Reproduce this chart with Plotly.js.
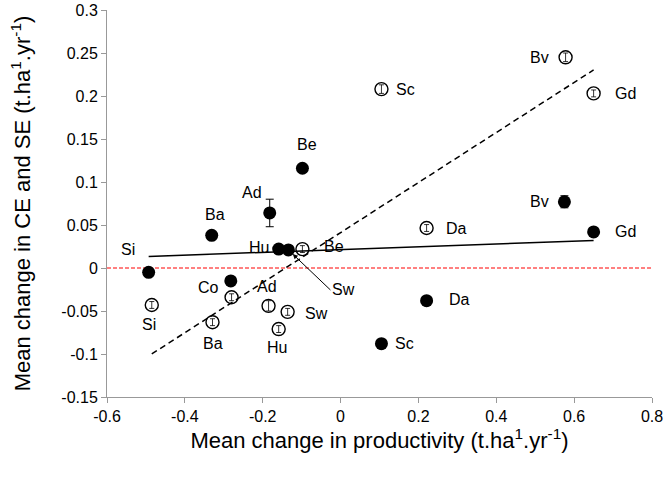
<!DOCTYPE html>
<html><head><meta charset="utf-8">
<script src="https://cdn.plot.ly/plotly-3.0.1.min.js"></script>
<style>html,body{margin:0;padding:0;background:#fff}#chart{width:666px;height:481px}</style>
</head><body><div id="chart"></div>
<script>
// Solid circles (CE)
const solidNames = ['Si','Ba','Ad','Be','Hu','Sw','Co','Da','Sc','Bv','Gd'];
const solidX = [-0.493,-0.331,-0.182,-0.098,-0.159,-0.134,-0.282,0.221,0.105,0.575,0.650];
const solidY = [-0.005,0.038,0.064,0.116,0.022,0.021,-0.015,-0.038,-0.088,0.077,0.042];
const solidErr = [0,0,0.016,0,0,0,0,0,0,0.007,0];
// Open circles (SE)
const openNames = ['Be','Co','Si','Ba','Ad','Sw','Hu','Da','Sc','Bv','Gd'];
const openX = [-0.098,-0.280,-0.485,-0.329,-0.185,-0.136,-0.159,0.221,0.105,0.578,0.650];
const openY = [0.022,-0.034,-0.043,-0.063,-0.044,-0.051,-0.071,0.0465,0.208,0.245,0.203];
const openErr = [0.004,0.004,0.004,0.004,0.006,0.004,0.004,0.004,0.005,0.005,0.004];
// Axis ticks
const xTicks = [-0.6,-0.4,-0.2,0,0.2,0.4,0.6,0.8];
const xTickText = ['-0.6','-0.4','-0.2','0','0.2','0.4','0.6','0.8'];
const yTicks = [-0.15,-0.1,-0.05,0,0.05,0.1,0.15,0.2,0.25,0.3];
const yTickText = ['-0.15','-0.1','-0.05','0','0.05','0.1','0.15','0.2','0.25','0.3'];
// label offsets in pixels [dx, dy(up)]
const solidLabelOff = {Si:[-21,23],Ba:[3,21],Ad:[-18,20],Be:[5,24],Hu:[-20,2],Co:[-22,-7],Da:[33,1],Sc:[23,0],Bv:[-25,0],Gd:[32,0]};
const openLabelOff = {Be:[32,3],Si:[-3,-20],Ba:[0,-21],Ad:[-2,19],Sw:[29,-2],Hu:[-2,-18],Da:[30,0],Sc:[24,0],Bv:[-26,0],Gd:[32,0]};

function fit(xs, ys){
  const n = xs.length;
  const mx = xs.reduce((a,b)=>a+b,0)/n, my = ys.reduce((a,b)=>a+b,0)/n;
  let sxy=0, sxx=0;
  for(let i=0;i<n;i++){sxy+=(xs[i]-mx)*(ys[i]-my); sxx+=(xs[i]-mx)**2;}
  const b = sxy/sxx, a = my - b*mx;
  const x0 = Math.min(...xs), x1 = Math.max(...xs);
  return {x:[x0,x1], y:[a+b*x0, a+b*x1]};
}
const fS = fit(solidX, solidY), fO = fit(openX, openY);

const font = 'Liberation Sans, Arial, sans-serif';
const LBL = 16;
const traces = [
  {x:[-0.6,0.8], y:[0,0], mode:'lines', line:{color:'#ff0000', width:1, dash:'4px,2px'}, hoverinfo:'skip'},
  {x:fS.x, y:fS.y, mode:'lines', line:{color:'#000', width:1.5}, hoverinfo:'skip'},
  {x:fO.x, y:fO.y, mode:'lines', line:{color:'#000', width:1.5, dash:'6px,4px'}, hoverinfo:'skip'},
  {x:openX, y:openY, mode:'markers', text:openNames,
   marker:{symbol:'circle-open', size:13, color:'#000', line:{width:1.4, color:'#000'}},
   error_y:{type:'data', array:openErr, visible:true, color:'#000', thickness:0.8, width:2.5}},
  {x:solidX, y:solidY, mode:'markers', text:solidNames,
   marker:{symbol:'circle', size:13, color:'#000'},
   error_y:{type:'data', array:solidErr, visible:true, color:'#000', thickness:1, width:4}}
];

const ann = [];
solidNames.forEach((n,i)=>{
  const o = solidLabelOff[n]; if(!o) return;
  ann.push({x:solidX[i], y:solidY[i], text:n, showarrow:false, xshift:o[0], yshift:o[1], font:{family:font,size:LBL,color:'#000'}});
});
openNames.forEach((n,i)=>{
  const o = openLabelOff[n]; if(!o) return;
  ann.push({x:openX[i], y:openY[i], text:n, showarrow:false, xshift:o[0], yshift:o[1], font:{family:font,size:LBL,color:'#000'}});
});
const iSw = solidNames.indexOf('Sw');
ann.push({x:solidX[iSw], y:solidY[iSw], text:'Sw', showarrow:true, arrowhead:2, arrowsize:1, arrowwidth:1, arrowcolor:'#000',
  ax:42, ay:40, standoff:6, font:{family:font,size:LBL,color:'#000'}, xanchor:'left', yanchor:'middle'});

const layout = {
  width:666, height:481, showlegend:false,
  paper_bgcolor:'#fff', plot_bgcolor:'#fff',
  margin:{l:107, r:14, t:10, b:84},
  font:{family:font, color:'#000'},
  xaxis:{range:[-0.6,0.8], tickvals:xTicks, ticktext:xTickText, showgrid:false, zeroline:false,
    showline:true, linecolor:'#999', linewidth:1, ticks:'outside', ticklen:5, tickcolor:'#999',
    tickfont:{family:font, size:16, color:'#000'},
    title:{text:'Mean change in productivity (t.ha<sup>1</sup>.yr<sup>-1</sup>)', font:{family:font,size:22,color:'#000'}, standoff:4}},
  yaxis:{range:[-0.15,0.3], tickvals:yTicks, ticktext:yTickText, showgrid:false, zeroline:false,
    showline:true, linecolor:'#999', linewidth:1, ticks:'outside', ticklen:5, tickcolor:'#999',
    tickfont:{family:font, size:16, color:'#000'},
    title:{text:'Mean change in CE and SE (t.ha<sup>1</sup>.yr<sup>-1</sup>)', font:{family:font,size:22,color:'#000'}, standoff:24}},
  annotations:ann
};
Plotly.newPlot('chart', traces, layout, {displayModeBar:false, staticPlot:true});
</script></body></html>
